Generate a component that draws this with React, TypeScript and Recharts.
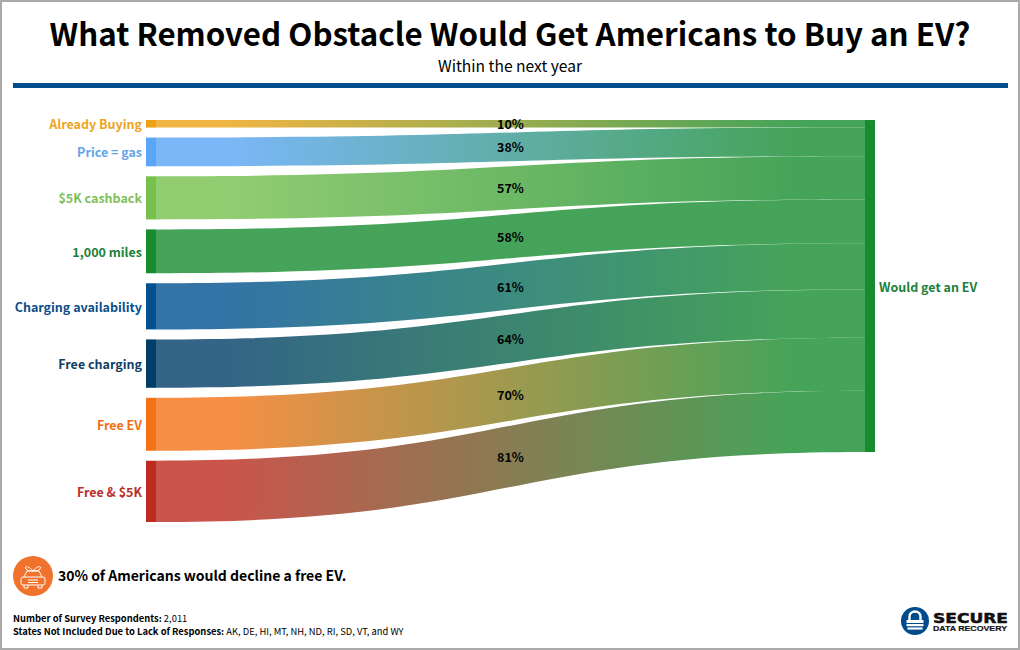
import { Sankey } from "recharts";

const FONT = '"Noto Sans CJK SC", "Noto Sans", sans-serif';

const categories = [
  "Already Buying",
  "Price = gas",
  "$5K cashback",
  "1,000 miles",
  "Charging availability",
  "Free charging",
  "Free EV",
  "Free & $5K",
];
const percents = [10, 38, 57, 58, 61, 64, 70, 81];
const nodeColors = [
  "#eca214", "#5aa5f5", "#76c04e", "#178d30",
  "#00508f", "#003e68", "#f47316", "#bc2a20",
];
const labelColors = [
  "#eca520", "#63a4ea", "#7fbf5a", "#1d8038",
  "#0b4f8a", "#0f3e63", "#ee7014", "#b9302a",
];
const targetName = "Would get an EV";
const targetColor = "#178d30";

const sankeyData = {
  nodes: [...categories, targetName].map((name) => ({ name })),
  links: percents.map((value, source) => ({ source, target: categories.length, value })),
};

function colorOf(name: string) {
  const i = categories.indexOf(name);
  return i < 0 ? targetColor : nodeColors[i];
}

function renderNode(props: any) {
  const { x, y, width, height, payload } = props;
  const i = categories.indexOf(payload.name);
  const isSource = i >= 0;
  return (
    <g>
      <rect x={x} y={y} width={width} height={height} fill={colorOf(payload.name)} />
      <text
        x={isSource ? x - 4 : x + width + 4}
        y={y + height / 2}
        textAnchor={isSource ? "end" : "start"}
        dominantBaseline="central"
        fontFamily={FONT}
        fontWeight={700}
        fontSize={12.5}
        fill={isSource ? labelColors[i] : "#1d8038"}
      >
        {payload.name}
      </text>
    </g>
  );
}

function renderLink(props: any) {
  const { sourceX, targetX, sourceY, targetY, sourceControlX, targetControlX, linkWidth, index, payload } = props;
  const half = linkWidth / 2;
  const id = `link-grad-${index}`;
  const d =
    `M${sourceX},${sourceY - half}` +
    `C${sourceControlX},${sourceY - half} ${targetControlX},${targetY - half} ${targetX},${targetY - half}` +
    `L${targetX},${targetY + half}` +
    `C${targetControlX},${targetY + half} ${sourceControlX},${sourceY + half} ${sourceX},${sourceY + half}Z`;
  return (
    <g>
      <defs>
        <linearGradient id={id} gradientUnits="userSpaceOnUse" x1={sourceX} y1={0} x2={targetX} y2={0}>
          <stop offset="10%" stopColor={colorOf(payload.source.name)} />
          <stop offset="90%" stopColor={targetColor} />
        </linearGradient>
      </defs>
      <path d={d} fill={`url(#${id})`} fillOpacity={0.8} />
      <text
        x={(sourceX + targetX) / 2}
        y={(sourceY + targetY) / 2}
        textAnchor="middle"
        dominantBaseline="central"
        fontFamily={FONT}
        fontWeight={700}
        fontSize={12.5}
        fill="#000"
      >
        {payload.value}%
      </text>
    </g>
  );
}

function CarIcon() {
  return (
    <svg width={40} height={40} style={{ position: "absolute", left: 13, top: 556 }}>
      <circle cx={20} cy={20} r={20} fill="#f0722d" />
      <g fill="none" stroke="#fff" strokeWidth={1}>
        <path d="M11 21 L14 15 H26 L29 21" />
        <rect x={8} y={21} width={24} height={8} rx={2} />
        <path d="M11 29 v3 h4 v-3 M25 29 v3 h4 v-3" />
        <path d="M15 24 H25 M15 26.5 H25" />
        <path d="M20 15 C15 9 11 10 13 13 C14 15 18 15 20 15 C22 15 26 15 27 13 C29 10 25 9 20 15Z" />
      </g>
    </svg>
  );
}

function Logo() {
  return (
    <svg width={112} height={32} style={{ position: "absolute", left: 900, top: 605 }}>
      <circle cx={15} cy={16} r={14} fill="#004b8d" />
      <path d="M9.5 15 V11.5 a5.5 5 0 0 1 11 0 V15" fill="none" stroke="#fff" strokeWidth={2.4} />
      <rect x={6.5} y={15} width={17} height={3} fill="#fff" />
      <rect x={6.5} y={19} width={17} height={2.2} fill="#fff" />
      <rect x={7.5} y={22.4} width={15} height={2.2} fill="#fff" />
      <text x={33} y={18} fontFamily="DejaVu Sans" fontWeight={700} fontSize={14} textLength={75} lengthAdjust="spacingAndGlyphs" fill="#111" stroke="#111" strokeWidth={0.5}>
        SECURE
      </text>
      <text x={33} y={26} fontFamily="Liberation Sans" fontWeight={700} fontSize={8} textLength={74} lengthAdjust="spacingAndGlyphs" fill="#111" stroke="#111" strokeWidth={0.2}>
        DATA RECOVERY
      </text>
    </svg>
  );
}

export default function App() {
  return (
    <div
      style={{
        position: "absolute",
        left: 0,
        top: 0,
        width: 1020,
        height: 650,
        boxSizing: "border-box",
        border: "2px solid #aaa",
        background: "#fff",
        fontFamily: FONT,
        color: "#000",
        overflow: "hidden",
      }}
    >
      <div style={{ position: "absolute", left: -2, top: -2, width: 1020, height: 650 }}>
        <div style={{ position: "absolute", left: 0, width: 1020, top: 9, textAlign: "center", fontWeight: 700, fontSize: 31.3, lineHeight: "48px", whiteSpace: "nowrap" }}>
          What Removed Obstacle Would Get Americans to Buy an EV?
        </div>
        <div style={{ position: "absolute", left: 0, width: 1020, top: 53, textAlign: "center", fontSize: 15.6, lineHeight: "24px" }}>
          Within the next year
        </div>
        <div style={{ position: "absolute", left: 13, top: 83, width: 995, height: 5, background: "#004e8f" }} />

        <div style={{ position: "absolute", left: 0, top: 0 }}>
          <Sankey
            width={1020}
            height={650}
            margin={{ top: 120, left: 146, right: 145, bottom: 128 }}
            data={sankeyData}
            nodeWidth={10}
            nodePadding={10}
            iterations={0}
            sort={false}
            linkCurvature={0.5}
            node={renderNode}
            link={renderLink}
          />
        </div>

        <CarIcon />
        <div style={{ position: "absolute", left: 58, top: 564, fontWeight: 700, fontSize: 14, lineHeight: "22px" }}>
          30% of Americans would decline a free EV.
        </div>
        <div style={{ position: "absolute", left: 13, top: 612, fontSize: 9.4, lineHeight: "13px" }}>
          <div><b>Number of Survey Respondents:</b> 2,011</div>
          <div><b>States Not Included Due to Lack of Responses:</b> AK, DE, HI, MT, NH, ND, RI, SD, VT, and WY</div>
        </div>
        <Logo />
      </div>
    </div>
  );
}
